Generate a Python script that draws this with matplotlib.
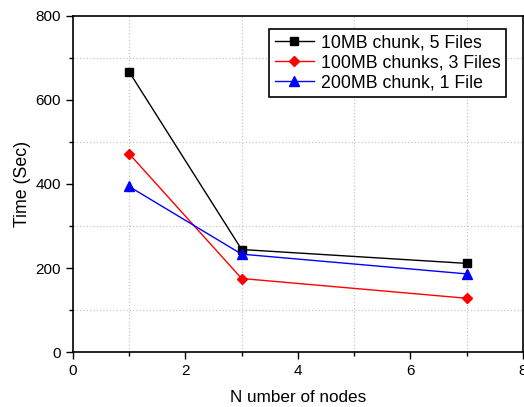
import matplotlib
matplotlib.use('Agg')
import matplotlib.pyplot as plt
from matplotlib.ticker import MultipleLocator

plt.rcParams['font.family'] = ['Liberation Sans', 'DejaVu Sans']

nodes = [1, 3, 7]
t_10mb = [667, 244, 211]
t_100mb = [472, 175, 128]
t_200mb = [394, 233, 186]
labels = ['10MB chunk, 5 Files', '100MB chunks, 3 Files', '200MB chunk, 1 File']

fig = plt.figure(figsize=(5.24, 4.07), dpi=100)
ax = fig.add_axes([0.139, 0.135, 0.859, 0.826])

ax.plot(nodes, t_10mb, color='black', marker='s', ms=6, lw=1, label=labels[0])
ax.plot(nodes, t_100mb, color='red', marker='D', ms=5, lw=1, label=labels[1])
ax.plot(nodes, t_200mb, color='blue', marker='^', ms=7, lw=1, label=labels[2])

ax.set_xlim(0, 8)
ax.set_ylim(0, 800)
ax.xaxis.set_major_locator(MultipleLocator(2))
ax.xaxis.set_minor_locator(MultipleLocator(1))
ax.yaxis.set_major_locator(MultipleLocator(200))
ax.yaxis.set_minor_locator(MultipleLocator(100))
ax.grid(which='minor', color='#c8c8c8', ls=':', lw=0.9)
ax.tick_params(which='major', length=5, width=1, labelsize=11)
ax.tick_params(which='minor', length=3, width=1)
for s in ax.spines.values():
    s.set_linewidth(1.2)

ax.set_xlabel('N umber of nodes', fontsize=12.3, labelpad=9)
ax.set_ylabel('Time (Sec)', fontsize=12.8, labelpad=3)

leg = ax.legend(loc='upper right', bbox_to_anchor=(0.962, 0.961), fontsize=12.8,
                fancybox=False, framealpha=1, edgecolor='black',
                handlelength=2.2, handletextpad=0.4, borderpad=0.3,
                labelspacing=0.18, borderaxespad=0)
leg.get_frame().set_linewidth(1.2)

fig.savefig('out.png', dpi=100)
